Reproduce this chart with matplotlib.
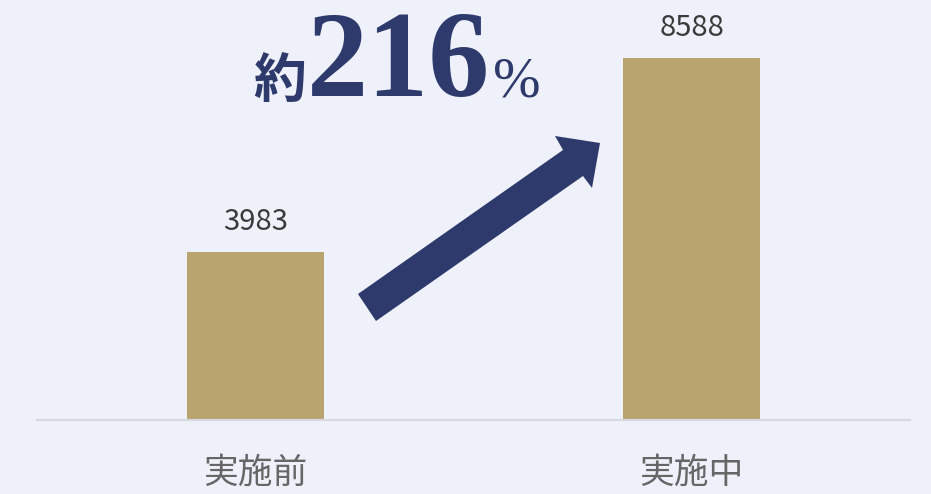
import matplotlib
matplotlib.use("Agg")
import matplotlib.pyplot as plt
from matplotlib.patches import Polygon
from matplotlib.transforms import Affine2D

categories = ["実施前", "実施中"]
values = [3983, 8588]
headline_prefix = "約"
headline_number = "216"
headline_suffix = "%"

W, H = 931, 494
BG = "#eef1fa"
BAR = "#b9a36e"
NAVY = "#2e3a6b"

fig = plt.figure(figsize=(W / 100, H / 100), dpi=100, facecolor=BG)
ax = fig.add_axes([37 / W, (H - 420) / H, (910 - 37) / W, 420 / H])
ax.set_facecolor(BG)

x = list(range(len(categories)))
ax.bar(x, values, width=0.314, color=BAR, zorder=2)
ax.set_xlim(-0.5, 1.5)
ax.set_ylim(0, max(values) * 420 / 362)

for s in ["top", "right", "left"]:
    ax.spines[s].set_visible(False)
ax.spines["bottom"].set_color("#d8d9de")
ax.spines["bottom"].set_linewidth(1.6)
ax.set_yticks([])
ax.set_xticks(x)
ax.set_xticklabels(categories, fontsize=25, color="#666666",
                   family=["Noto Sans CJK JP", "DejaVu Sans"])
ax.tick_params(axis="x", length=0, pad=26)

for xi, v in zip(x, values):
    ax.annotate(f"{v}", (xi, v), xytext=(0, 11), textcoords="offset points",
                ha="center", va="bottom", fontsize=21, color="#3a3a3a",
                family=["Noto Sans CJK JP", "DejaVu Sans"])

# pixel-coordinate transform (top-left origin)
pix = Affine2D().scale(1 / W, -1 / H).translate(0, 1) + fig.transFigure

arrow_pts = [(358, 294), (563, 150), (555, 136), (600, 143),
             (592, 188), (583, 176), (376, 321)]
fig.patches.append(Polygon(arrow_pts, closed=True, facecolor=NAVY,
                           edgecolor="none", transform=pix, zorder=3))

fig.text(253 / W, 1 - 97 / H, headline_prefix, fontsize=38, fontweight="bold",
         color=NAVY, family=["Noto Sans CJK JP", "DejaVu Sans"],
         ha="left", va="baseline")
fig.text(307 / W, 1 - 96 / H, headline_number, fontsize=88, fontweight="bold",
         color=NAVY, family=["Liberation Serif", "DejaVu Serif"],
         ha="left", va="baseline")
fig.text(493 / W, 1 - 96 / H, headline_suffix, fontsize=41,
         color=NAVY, family=["Liberation Serif", "DejaVu Serif"],
         ha="left", va="baseline")

fig.savefig("out.png", dpi=100, facecolor=BG)
